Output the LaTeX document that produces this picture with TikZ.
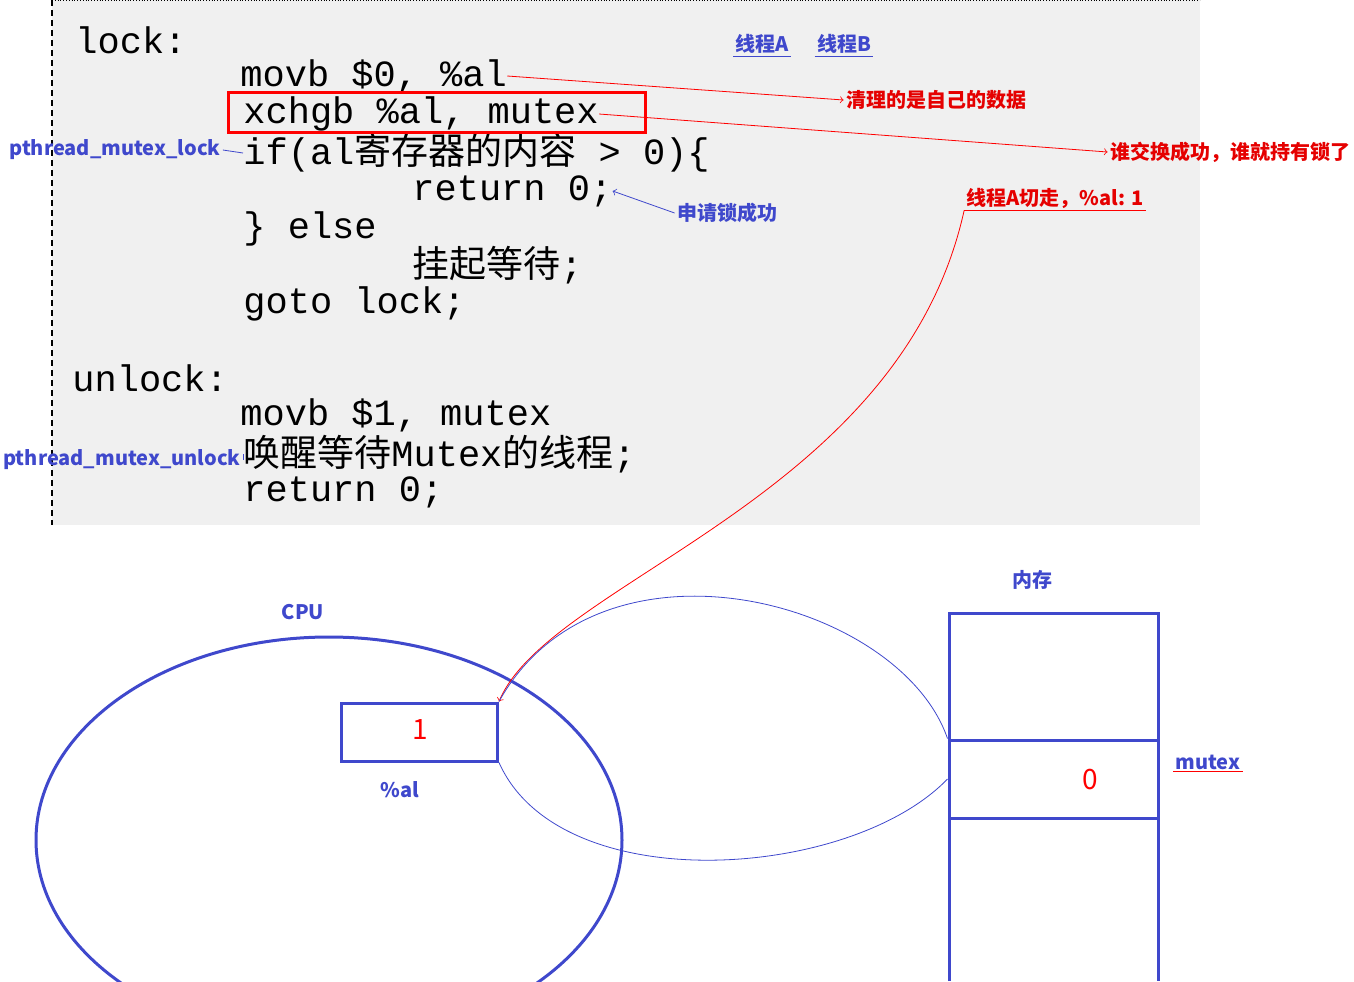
\documentclass[tikz,border=0pt]{standalone}
\usepackage{fontspec}
\setmonofont{Liberation Mono}
\setsansfont{Noto Sans CJK SC}
\newfontfamily\cjk{Noto Sans CJK SC}
\usetikzlibrary{positioning}
\definecolor{penblue}{RGB}{63,72,204}
\tikzset{
  code/.style={anchor=west, inner sep=0pt, font=\fontsize{18.5}{18.5}\selectfont\ttfamily},
  bluelab/.style={text=penblue, font=\fontsize{10}{10}\selectfont\sffamily\bfseries, inner sep=1pt},
  redlab/.style={text=red!90!black, font=\fontsize{10}{10}\selectfont\sffamily\bfseries, inner sep=1pt},
  pen/.style={red, thin},
  bluepen/.style={penblue, thin},
}
\begin{document}
\begin{tikzpicture}[x=0.5pt, y=-0.5pt]
  \useasboundingbox (0,0) rectangle (1354,981);
  \clip (0,0) rectangle (1354,981);
  \fill[gray!12] (52,0) rectangle (1200,525);
  \draw[densely dashed, thick] (52,0) -- (52,525);
  \draw[densely dotted] (52,0) -- (1200,0);

  % code
  \node[code] (lock) at (75,40) {lock:};
  \node[code] (c1) at (240,76) {movb \$0, \%al};
  \node[code] (c2) at (243,114) {xchgb \%al, mutex};
  \node[code] (c3) at (243,153) {if(al{\cjk 寄存器的内容} > 0)\{};
  \node[code] (c4) at (412,191) {return 0;};
  \node[code] (c5) at (243,229) {\} else};
  \node[code] (c6) at (412,265) {{\cjk 挂起等待};};
  \node[code] (c7) at (243,304) {goto lock;};
  \node[code] (unlock) at (72,378) {unlock:};
  \node[code] (u1) at (240,415) {movb \$1, mutex};
  \node[code] (u2) at (243,454) {{\cjk 唤醒等待}Mutex{\cjk 的线程};};
  \node[code] (u3) at (243,492) {return 0;};
  \draw[red, line width=1.5pt] (228,92) rectangle (645,132);

  % labels
  \node[bluelab] (ta) at (762,44) {线程A};
  \node[bluelab] (tb) at (844,44) {线程B};
  \node[bluelab] (plock) at (115,150) {pthread\_mutex\_lock};
  \node[bluelab] (punlock) at (122,460) {pthread\_mutex\_unlock};
  \node[bluelab] (ok) at (727,213) {申请锁成功};
  \node[redlab] (own) at (936,100) {清理的是自己的数据};
  \node[redlab] (who) at (1230,152) {谁交换成功，谁就持有锁了};
  \node[redlab] (cut) at (1055,198) {线程A切走，\%al: 1};

  % cpu and memory
  \node[bluelab] (cpu) at (303,612) {CPU};
  \draw[penblue, line width=1.5pt] (329,840) ellipse [x radius=293, y radius=203];
  \node[draw=penblue, line width=1.5pt, minimum width=78pt, minimum height=29pt, inner sep=0pt] (al) at (419.5,732) {};
  \node[bluelab] (allab) at (400,790) {\%al};
  \node[bluelab] (mem) at (1032,580) {内存};
  \draw[penblue, line width=1.5pt] (949,981) -- (949,613) -- (1158,613) -- (1158,981);
  \node[draw=penblue, line width=1.5pt, minimum width=104.5pt, minimum height=39pt, inner sep=0pt] (cell) at (1053.5,779) {};
  \node[bluelab] (mutexlab) at (1208,762) {mutex};
  \node[text=red, font=\fontsize{14}{14}\selectfont\sffamily] at (1090,780) {0};
  \node[text=red, font=\fontsize{14}{14}\selectfont\sffamily] at (420,730) {1};

  % annotations
  \draw[pen, ->] (c1.east) -- (own.west);
  \draw[pen, ->] (c2.east) -- (who.west);
  \draw[bluepen, ->] (ok.west) -- (c4.east);
  \draw[pen, ->] (cut.south west) .. controls (900,500) and (550,580) .. (al.north east);
  \draw[bluepen] (al.south east) .. controls (560,900) and (850,880) .. (cell.west);
  \draw[bluepen] (al.north east) .. controls (600,520) and (900,600) .. (cell.north west);
  \draw[bluepen] (plock.east) -- (c3.west);
  \draw[bluepen] (punlock.east) -- (u2.west);
  \draw[bluepen] (ta.south west) -- (ta.south east);
  \draw[bluepen] (tb.south west) -- (tb.south east);
  \draw[pen] (cut.south west) -- (cut.south east);
  \draw[pen] (mutexlab.south west) -- (mutexlab.south east);
\end{tikzpicture}
\end{document}
